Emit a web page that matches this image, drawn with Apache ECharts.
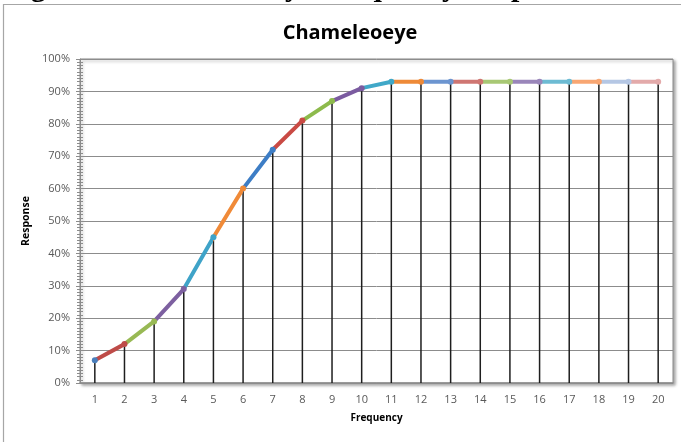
<!DOCTYPE html>
<html>
<head>
<meta charset="utf-8">
<script src="https://cdn.jsdelivr.net/npm/echarts@6/dist/echarts.min.js"></script>
<style>
  html, body { margin: 0; padding: 0; background: #fff; }
  #chart { width: 681px; height: 442px; }
</style>
</head>
<body>
<div id="chart"></div>
<script>
// Frequency steps along the x axis
const frequencies = ['1','2','3','4','5','6','7','8','9','10','11','12','13','14','15','16','17','18','19','20'];
// Response (%) at each frequency
const response = [7, 12, 19, 29, 45, 60, 72, 81, 87, 91, 93, 93, 93, 93, 93, 93, 93, 93, 93, 93];

// Per-point colours (each segment takes the colour of the point it ends on)
const pointColors = [
  '#4A7EBB', '#BE4B48', '#98B954', '#7D60A0', '#3FA3C8', '#F08A38',
  '#3D7DC5', '#C94A44', '#8DBA4C', '#7B5BA0', '#40A8C8', '#EE8A38',
  '#6C95D0', '#CF7672', '#A8C874', '#9A86BA', '#6DBBD3', '#F8A672',
  '#B5C7E4', '#E3AAAA'
];

const pieces = pointColors.map((c, i) =>
  i === 0 ? { lte: 0, color: c } : { gt: i - 1, lte: i, color: c }
);

const labelFont = { fontFamily: 'Open Sans', fontSize: 11, color: '#595959' };

const chart = echarts.init(document.getElementById('chart'), null, { renderer: 'canvas' });

chart.setOption({
  animation: false,
  backgroundColor: '#fff',
  title: {
    text: 'Chameleoeye',
    left: 345,
    textAlign: 'center',
    top: 18,
    textStyle: { fontFamily: 'Open Sans', fontWeight: 'bold', fontSize: 20, color: '#000' }
  },
  graphic: [
    {
      type: 'rect',
      shape: { x: 3.5, y: 4.5, width: 720, height: 480 },
      style: { fill: null, stroke: '#a6a6a6', lineWidth: 1.2 },
      silent: true,
      z: -10
    },
    {
      // document caption above the chart frame; only its descenders fall inside the page
      type: 'text',
      style: {
        text: 'Figure 12: Chameleoeye Frequency Response',
        x: 4,
        y: -11.5,
        font: 'bold 30px "Liberation Serif"',
        lineHeight: 60,
        fill: '#000',
        align: 'left',
        verticalAlign: 'middle'
      },
      silent: true
    }
  ],
  grid: {
    left: 80, right: 8, top: 59, bottom: 59,
    show: true,
    backgroundColor: '#fff',
    borderColor: '#8c8c8c',
    borderWidth: 1,
    shadowColor: 'rgba(0,0,0,0.35)',
    shadowBlur: 3,
    shadowOffsetX: 2,
    shadowOffsetY: 2
  },
  visualMap: {
    show: false,
    type: 'piecewise',
    seriesIndex: 1,
    dimension: 0,
    pieces: pieces
  },
  xAxis: {
    type: 'category',
    data: frequencies,
    boundaryGap: true,
    name: 'Frequency',
    nameLocation: 'middle',
    nameGap: 30,
    nameTextStyle: { fontFamily: 'Open Sans', fontWeight: 'bold', fontSize: 10, color: '#000' },
    axisLine: { lineStyle: { color: '#8c8c8c', width: 1.5 } },
    axisTick: { show: false },
    axisLabel: Object.assign({ margin: 11 }, labelFont),
    splitLine: { show: false }
  },
  yAxis: [
    {
      type: 'value',
      min: 0, max: 100, interval: 10,
      name: 'Response',
      nameLocation: 'middle',
      nameGap: 46,
      nameTextStyle: { fontFamily: 'Open Sans', fontWeight: 'bold', fontSize: 10.5, color: '#000' },
      axisLine: { show: true, lineStyle: { color: '#8c8c8c', width: 1 } },
      axisTick: { show: true, length: 4, lineStyle: { color: '#8c8c8c' } },
      minorTick: { show: true, splitNumber: 10, length: 3, lineStyle: { color: '#8c8c8c' } },
      axisLabel: Object.assign({ margin: 10, formatter: '{value}%' }, labelFont),
      splitLine: { show: true, lineStyle: { color: '#8c8c8c', width: 1 } }
    },
    {
      type: 'value',
      min: 0, max: 100, interval: 10,
      position: 'left',
      axisLine: { show: false },
      axisTick: { show: true, inside: true, length: 3, lineStyle: { color: '#8c8c8c' } },
      minorTick: { show: true, splitNumber: 10, length: 3, lineStyle: { color: '#8c8c8c' } },
      axisLabel: { show: false },
      splitLine: { show: false }
    }
  ],
  series: [
    {
      name: 'drop',
      type: 'bar',
      data: response,
      barWidth: 1.5,
      itemStyle: { color: '#1e1e1e' },
      silent: true,
      z: 2
    },
    {
      name: 'Response',
      type: 'line',
      data: response,
      symbol: 'circle',
      symbolSize: 6,
      lineStyle: { width: 4, cap: 'round', join: 'round' },
      itemStyle: { borderWidth: 1 },
      silent: true,
      z: 3
    }
  ]
});
</script>
</body>
</html>
